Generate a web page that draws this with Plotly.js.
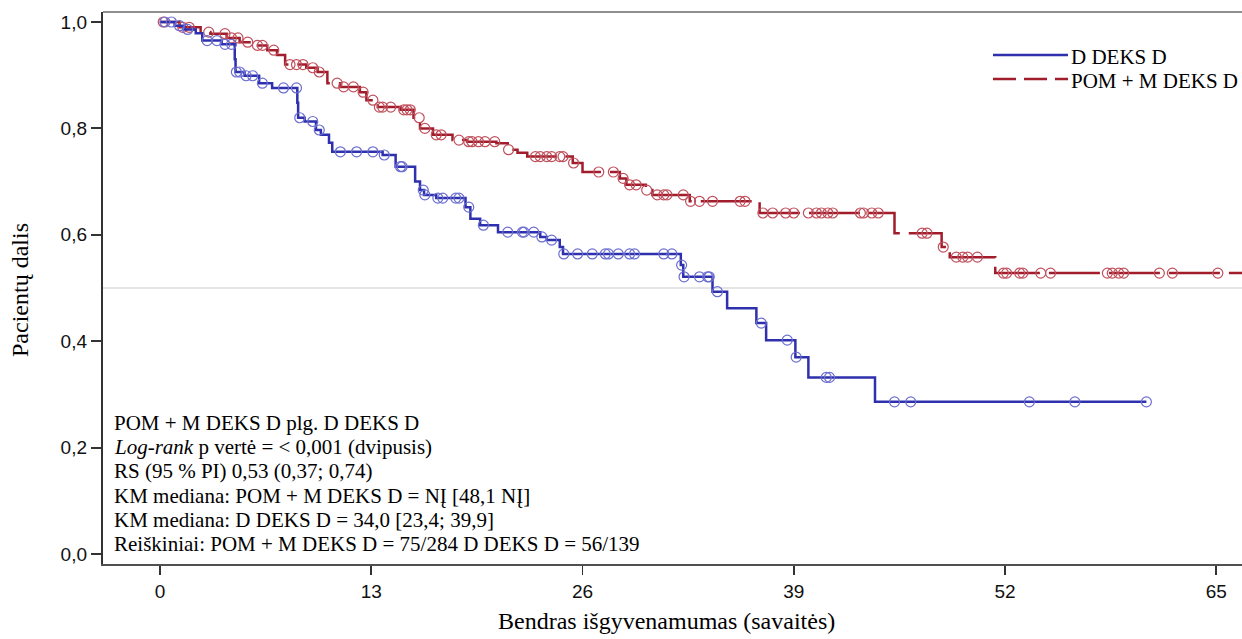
<!DOCTYPE html>
<html>
<head>
<meta charset="utf-8">
<script src="https://cdn.plot.ly/plotly-3.0.1.min.js"></script>
<style>
  html, body { margin: 0; padding: 0; background: #ffffff; }
  #chart { width: 1242px; height: 639px; }
</style>
</head>
<body>
<div id="chart"></div>
<script>
// ---------------- DATA ----------------
const seriesNames = ["D DEKS D", "POM + M DEKS D"];

// D DEKS D: event times (weeks) and survival after each step
const dTimes = [0, 0.9, 1.5, 2.2, 2.6, 3.8, 4.6, 4.65, 5.2, 6.1, 6.9, 8.45, 8.5, 8.9, 9.6, 9.9, 10.4, 10.6,
  13.7, 14.5, 15.7, 16.0, 16.25, 17.0, 18.8, 19.1, 19.7, 20.8, 23.4, 23.8, 24.6, 24.8,
  32.05, 32.2, 34.0, 34.9, 36.7, 37.3, 39.1, 39.9, 44.0, 60.7];
const dSurv = [1.0, 0.993, 0.986, 0.979, 0.965, 0.958, 0.93, 0.906, 0.899, 0.885, 0.876, 0.848, 0.82, 0.813, 0.797, 0.788, 0.773, 0.756,
  0.75, 0.728, 0.70, 0.684, 0.675, 0.669, 0.652, 0.63, 0.618, 0.605, 0.596, 0.59, 0.577, 0.564,
  0.543, 0.521, 0.493, 0.462, 0.434, 0.402, 0.370, 0.332, 0.286, 0.286];
const dCensor = [0.3, 0.7, 1.2, 1.7, 2.9, 3.5, 4.0, 4.4, 4.7, 4.9, 5.3, 5.7, 6.3, 7.6, 8.4, 8.6, 9.4, 9.8,
  11.1, 12.1, 13.1, 13.8, 14.8, 14.9, 16.2, 16.3, 17.1, 17.4, 18.2, 18.4, 19.0, 19.9, 21.4, 22.3, 22.4,
  23.0, 23.5, 24.1, 24.85, 25.7, 26.6, 27.4, 27.6, 28.2, 28.9, 29.2, 31.0, 31.5, 32.1, 32.25, 33.2, 33.7,
  33.8, 34.3, 37.0, 38.6, 39.15, 41.0, 41.2, 45.2, 46.2, 53.5, 56.3, 60.7];

// POM + M DEKS D
const pTimes = [0, 1.2, 2.5, 3.1, 4.1, 4.9, 5.7, 6.6, 7.2, 7.7, 9.0, 9.7, 10.3, 11.1, 12.3, 12.7, 13.4, 14.8,
  15.6, 16.0, 16.8, 18.0, 18.9, 20.7, 21.4, 22.0, 22.6, 25.4, 26.0, 28.3, 28.7, 29.9, 30.3, 32.6,
  36.9, 45.2, 48.1, 48.4, 48.6, 51.4, 66.6];
const pSurv = [1.0, 0.99, 0.981, 0.978, 0.97, 0.962, 0.956, 0.947, 0.938, 0.92, 0.914, 0.906, 0.885, 0.878, 0.868, 0.853, 0.84, 0.835,
  0.82, 0.80, 0.788, 0.778, 0.775, 0.772, 0.76, 0.754, 0.747, 0.735, 0.718, 0.706, 0.694, 0.684, 0.675, 0.663,
  0.641, 0.603, 0.577, 0.568, 0.558, 0.528, 0.528];
const pCensor = [0.2, 1.4, 1.8, 3.0, 4.0, 4.4, 4.8, 5.4, 6.0, 6.3, 7.0, 8.0, 8.4, 8.8, 9.4, 9.8, 10.9, 11.3,
  11.9, 12.5, 13.1, 13.5, 13.7, 14.2, 15.0, 15.2, 15.4, 15.95, 16.3, 17.0, 17.3, 18.4, 19.0, 19.2, 19.6,
  20.0, 20.6, 21.45, 23.1, 23.4, 23.8, 24.1, 24.6, 24.8, 25.45, 27.0, 27.9, 28.5, 28.9, 29.3, 29.95,
  30.6, 31.0, 31.2, 32.2, 32.65, 33.2, 34.0, 35.7, 36.0, 37.1, 37.7, 38.5, 39.0, 39.9, 40.4, 40.7,
  41.1, 41.4, 43.1, 43.3, 43.8, 44.2, 46.9, 47.2, 48.2, 49.0, 49.4, 49.7, 50.3, 51.9, 52.1, 52.9,
  53.1, 54.2, 54.8, 58.3, 58.6, 59.0, 59.3, 61.5, 62.3, 65.1];

const xTickVals = [0, 13, 26, 39, 52, 65];
const xTickText = ["0", "13", "26", "39", "52", "65"];
const yTickVals = [0, 0.2, 0.4, 0.6, 0.8, 1.0];
const yTickText = ["0,0", "0,2", "0,4", "0,6", "0,8", "1,0"];

const xTitle = "Bendras išgyvenamumas (savaitės)";
const yTitle = "Pacientų dalis";
const statLines = [
  "POM + M DEKS D plg. D DEKS D",
  "<i>Log-rank</i> p vertė = &lt; 0,001 (dvipusis)",
  "RS (95 % PI) 0,53 (0,37; 0,74)",
  "KM mediana: POM + M DEKS D = NĮ [48,1 NĮ]",
  "KM mediana: D DEKS D = 34,0 [23,4; 39,9]",
  "Reiškiniai: POM + M DEKS D = 75/284 D DEKS D = 56/139"
];
const refLevel = 0.5;

// ---------------- HELPERS ----------------
function survAt(times, surv, t) {
  let s = surv[0];
  for (let i = 0; i < times.length; i++) { if (times[i] <= t) s = surv[i]; else break; }
  return s;
}
// layout pixel -> paper helpers (plot area: x 103..1242, y 12..564)
const PL = 103, PR = 1242, PT = 12, PB = 564;
const px = v => (v - PL) / (PR - PL);
const py = v => (PB - v) / (PB - PT);

const blue = "#2e30ad", blueMk = "#6b6fd0";
const red = "#a11d2c", redMk = "#c0505c";
const serif = "Liberation Serif, Times New Roman, serif";
const narrow = "Liberation Sans Narrow, Arial Narrow, Liberation Sans, Arial, sans-serif";

const traces = [
  { x: pTimes, y: pSurv, type: "scatter", mode: "lines", line: { shape: "hv", color: red, width: 2.5, dash: "51px,9px" }, name: seriesNames[1], hoverinfo: "skip" },
  { x: pCensor, y: pCensor.map(t => survAt(pTimes, pSurv, t)), type: "scatter", mode: "markers",
    marker: { symbol: "circle-open", size: 10, color: redMk, line: { width: 1.2, color: redMk } }, hoverinfo: "skip" },
  { x: dTimes, y: dSurv, type: "scatter", mode: "lines", line: { shape: "hv", color: blue, width: 2.5 }, name: seriesNames[0], hoverinfo: "skip" },
  { x: dCensor, y: dCensor.map(t => survAt(dTimes, dSurv, t)), type: "scatter", mode: "markers",
    marker: { symbol: "circle-open", size: 10, color: blueMk, line: { width: 1.2, color: blueMk } }, hoverinfo: "skip" }
];

const annotations = [];
const lineCenters = [422.7, 446.7, 471, 495.7, 520, 544];
statLines.forEach((t, i) => annotations.push({
  xref: "paper", yref: "paper", x: px(112), y: py(lineCenters[i]), xanchor: "left", yanchor: "middle",
  text: t, showarrow: false, font: { family: serif, size: 21, color: "#000" }
}));
annotations.push({ xref: "paper", yref: "paper", x: px(1069), y: py(57), xanchor: "left", yanchor: "middle",
  text: seriesNames[0], showarrow: false, font: { family: serif, size: 21, color: "#000" } });
annotations.push({ xref: "paper", yref: "paper", x: px(1069), y: py(81), xanchor: "left", yanchor: "middle",
  text: seriesNames[1], showarrow: false, font: { family: serif, size: 21, color: "#000" } });
annotations.push({ xref: "paper", yref: "paper", x: px(666), y: py(621), xanchor: "center", yanchor: "middle",
  text: xTitle, showarrow: false, font: { family: serif, size: 24, color: "#000" } });
annotations.push({ xref: "paper", yref: "paper", x: px(20), y: py(290), xanchor: "center", yanchor: "middle",
  text: yTitle, textangle: -90, showarrow: false, font: { family: serif, size: 24, color: "#000" } });

const shapes = [
  { type: "line", xref: "paper", yref: "y", x0: 0, x1: 1, y0: refLevel, y1: refLevel, layer: "below",
    line: { color: "#dcdcdc", width: 1.5 } },
  { type: "line", xref: "paper", yref: "paper", x0: 0, x1: 1, y0: 1, y1: 1, line: { color: "#6a6a6a", width: 1.5 } },
  { type: "line", xref: "paper", yref: "paper", x0: px(993), x1: px(1068), y0: py(55), y1: py(55), line: { color: blue, width: 2.5 } },
  { type: "line", xref: "paper", yref: "paper", x0: px(993), x1: px(1068), y0: py(79), y1: py(79), line: { color: red, width: 2.5, dash: "23px,8px" } }
];

const layout = {
  width: 1242, height: 639,
  margin: { l: PL, r: 1242 - PR, t: PT, b: 639 - PB, pad: 0 },
  paper_bgcolor: "#ffffff", plot_bgcolor: "#ffffff",
  showlegend: false,
  xaxis: {
    range: [(PL - 160) / 16.25, (PR - 160) / 16.25],
    showgrid: false, zeroline: false, showline: true, linecolor: "#505050", linewidth: 2,
    ticks: "outside", ticklen: 9, tickwidth: 1.6, tickcolor: "#333",
    tickvals: xTickVals, ticktext: xTickText,
    tickfont: { family: narrow, size: 19, color: "#111" }
  },
  yaxis: {
    range: [-10 / 532, 1 + 10 / 532],
    showgrid: false, zeroline: false, showline: true, linecolor: "#333", linewidth: 2.2,
    ticks: "outside", ticklen: 10, tickwidth: 2, tickcolor: "#333",
    tickvals: yTickVals, ticktext: yTickText,
    tickfont: { family: narrow, size: 19, color: "#111" }
  },
  shapes: shapes,
  annotations: annotations
};

Plotly.newPlot("chart", traces, layout, { displayModeBar: false, staticPlot: true });
</script>
</body>
</html>
